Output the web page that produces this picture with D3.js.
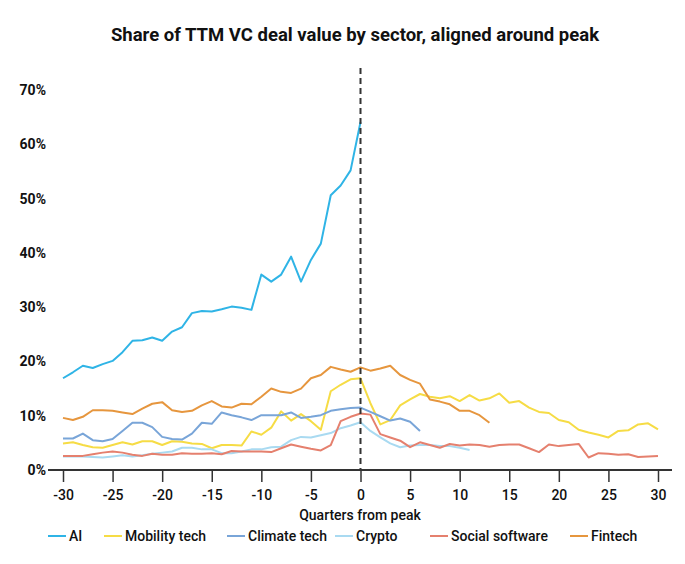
<!DOCTYPE html>
<html>
<head>
<meta charset="utf-8">
<script src="https://cdn.jsdelivr.net/npm/d3@7"></script>
<style>
  body { margin: 0; background: #fff; }
  text { font-family: Roboto, "Liberation Sans", sans-serif; }
</style>
</head>
<body>
<div id="chart"></div>
<script>
const width = 685;
const height = 564;

// quarters from peak, each series starts at -30
const startQuarter = -30;
const xTicks = [-30, -25, -20, -15, -10, -5, 0, 5, 10, 15, 20, 25, 30];
const yTicks = [0, 10, 20, 30, 40, 50, 60, 70];

const seriesNames = ["AI", "Mobility tech", "Climate tech", "Crypto", "Social software", "Fintech"];
const seriesColors = ["#2fb4e6", "#f6dc45", "#79a5d8", "#a9daf1", "#e5806e", "#e6963e"];

const ai = [16.9, 18.0, 19.2, 18.8, 19.5, 20.1, 21.7, 23.8, 23.9, 24.4, 23.8, 25.5, 26.3, 28.9, 29.3, 29.2,
  29.6, 30.1, 29.9, 29.5, 36.0, 34.7, 36.0, 39.3, 34.7, 38.7, 41.7, 50.6, 52.4, 55.2, 64.1];

const mobility = [4.9, 5.1, 4.6, 4.2, 4.1, 4.6, 5.1, 4.7, 5.3, 5.3, 4.6, 5.3, 5.2, 4.9, 4.8, 4.0,
  4.6, 4.6, 4.5, 7.1, 6.5, 7.8, 10.8, 9.1, 10.3, 9.0, 7.4, 14.5, 15.7, 16.7, 16.9,
  12.3, 8.4, 9.2, 11.9, 13.0, 14.0, 13.5, 13.2, 13.6, 12.7, 13.8, 12.8, 13.2, 14.1, 12.4,
  12.7, 11.5, 10.7, 10.5, 9.2, 8.8, 7.4, 6.9, 6.5, 6.0, 7.2, 7.3, 8.4, 8.6, 7.5];

const climate = [5.8, 5.8, 6.7, 5.5, 5.3, 5.7, 7.2, 8.7, 8.7, 7.9, 6.1, 5.7, 5.6, 6.7, 8.7, 8.5,
  10.6, 10.1, 9.7, 9.2, 10.1, 10.1, 10.1, 10.6, 9.6, 9.8, 10.1, 10.9, 11.2, 11.4, 11.5,
  10.7, 9.9, 9.1, 9.5, 8.9, 7.2];

const crypto = [2.5, 2.5, 2.5, 2.4, 2.3, 2.5, 2.7, 2.5, 2.7, 3.0, 3.2, 3.4, 4.1, 4.1, 3.8, 3.8,
  3.1, 3.1, 3.4, 3.8, 3.8, 4.2, 4.3, 5.5, 6.1, 6.0, 6.4, 6.8, 7.7, 8.2, 8.8,
  7.2, 6.0, 4.9, 4.2, 4.5, 4.6, 4.6, 4.4, 4.4, 4.1, 3.7];

const social = [2.6, 2.6, 2.6, 2.9, 3.2, 3.4, 3.2, 2.8, 2.6, 3.0, 2.8, 2.8, 3.1, 3.0, 3.0, 3.1,
  2.9, 3.5, 3.4, 3.4, 3.4, 3.3, 4.0, 4.7, 4.3, 3.9, 3.6, 4.6, 9.0, 9.8, 10.4,
  10.2, 6.6, 6.0, 5.4, 4.2, 5.1, 4.6, 4.1, 4.8, 4.5, 4.7, 4.6, 4.3, 4.6, 4.7,
  4.7, 4.0, 3.3, 4.7, 4.4, 4.6, 4.8, 2.3, 3.1, 3.0, 2.8, 2.9, 2.4, 2.5, 2.6];

const fintech = [9.6, 9.2, 9.8, 11.0, 11.0, 10.9, 10.6, 10.3, 11.3, 12.2, 12.5, 11.0, 10.7, 10.9, 11.9, 12.7,
  11.7, 11.5, 12.2, 12.1, 13.5, 15.0, 14.4, 14.2, 15.0, 16.9, 17.5, 19.0, 18.5, 18.1, 18.9,
  18.3, 18.7, 19.2, 17.5, 16.6, 15.9, 13.0, 12.6, 12.1, 10.9, 10.9, 10.1, 8.7];

const seriesValues = [ai, mobility, climate, crypto, social, fintech];

function createChart() {
    var svg = d3.select("#chart")
        .append("svg")
        .attr("width", width)
        .attr("height", height)
        .style("background-color", "white");

    var xScale = d3.scaleLinear()
        .domain([-30, 30])
        .range([63, 658]);

    var yScale = d3.scaleLinear()
        .domain([0, 70])
        .range([470, 90]);

    // title
    svg.append("text")
        .attr("x", 355)
        .attr("y", 41)
        .attr("text-anchor", "middle")
        .attr("font-size", 18.5)
        .attr("font-weight", 700)
        .attr("fill", "#111")
        .text("Share of TTM VC deal value by sector, aligned around peak");

    // y labels, no axis line
    var yAxis = svg.append("g")
        .attr("transform", "translate(46,0)")
        .call(d3.axisLeft(yScale).tickValues(yTicks).tickSize(0).tickPadding(0).tickFormat(d => d + "%"));
    yAxis.select(".domain").remove();
    yAxis.selectAll("text")
        .attr("font-size", 14)
        .attr("font-weight", 700)
        .attr("fill", "#111")
        .style("font-family", "Roboto, sans-serif");

    // x axis
    svg.append("line")
        .attr("x1", 48)
        .attr("x2", 672)
        .attr("y1", yScale(0))
        .attr("y2", yScale(0))
        .style("stroke", "#333")
        .style("stroke-width", 2);

    var xAxis = svg.append("g")
        .attr("transform", "translate(0," + yScale(0) + ")")
        .call(d3.axisBottom(xScale).tickValues(xTicks).tickSize(12).tickPadding(8).tickFormat(d => String(d)));
    xAxis.select(".domain").remove();
    xAxis.selectAll(".tick line")
        .style("stroke", "#333")
        .style("stroke-width", 1.5);
    xAxis.selectAll("text")
        .attr("font-size", 14)
        .attr("font-weight", 500)
        .attr("fill", "#111")
        .style("font-family", "Roboto, sans-serif");

    svg.append("text")
        .attr("x", 360)
        .attr("y", 520)
        .attr("text-anchor", "middle")
        .attr("font-size", 14)
        .attr("font-weight", 500)
        .attr("fill", "#111")
        .text("Quarters from peak");

    // lines
    var line = d3.line()
        .x((d, i) => xScale(startQuarter + i))
        .y(d => yScale(d));

    seriesValues.forEach((values, k) => {
        svg.append("path")
            .datum(values)
            .attr("d", line)
            .style("fill", "none")
            .style("stroke", seriesColors[k])
            .style("stroke-width", 2)
            .style("stroke-linejoin", "round");
    });

    // peak marker
    svg.append("line")
        .attr("x1", xScale(0))
        .attr("x2", xScale(0))
        .attr("y1", 68)
        .attr("y2", yScale(0))
        .style("stroke", "#333")
        .style("stroke-width", 2)
        .style("stroke-dasharray", "6,4");

    // legend
    var legendX = [48, 104, 227, 335, 430, 570];
    seriesNames.forEach((name, k) => {
        var g = svg.append("g")
            .attr("transform", "translate(" + legendX[k] + ",536)");
        g.append("line")
            .attr("x1", 0)
            .attr("x2", 18)
            .style("stroke", seriesColors[k])
            .style("stroke-width", 2);
        g.append("text")
            .attr("x", 21)
            .attr("dy", "0.35em")
            .attr("font-size", 14)
            .attr("font-weight", 500)
            .attr("fill", "#111")
            .text(name);
    });
}

window.onload = createChart();
</script>
</body>
</html>
